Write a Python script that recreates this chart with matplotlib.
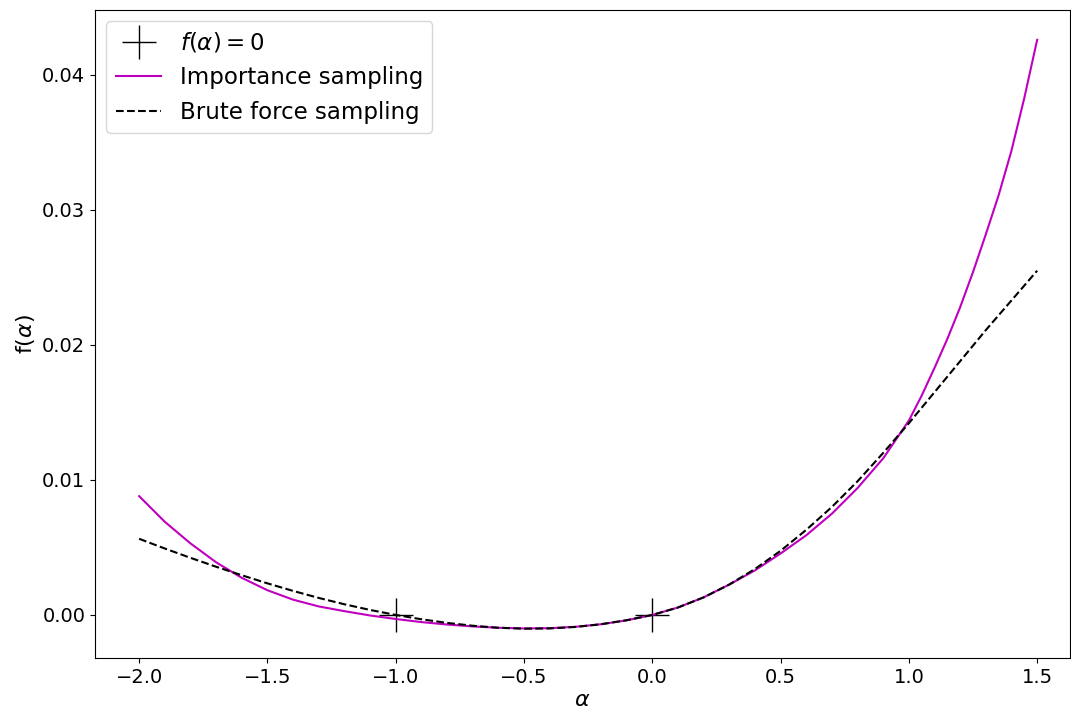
import numpy as np
import matplotlib
matplotlib.use("Agg")
import matplotlib.pyplot as plt

# values
alpha_is = [-2.0, -1.9, -1.8, -1.7, -1.6, -1.5, -1.4, -1.3, -1.2, -1.1,
            -1.0, -0.9, -0.8, -0.7, -0.6, -0.5, -0.4, -0.3, -0.2, -0.1,
            0.0, 0.1, 0.2, 0.3, 0.4, 0.5, 0.6, 0.7, 0.8, 0.9,
            1.0, 1.05, 1.1, 1.15, 1.2, 1.25, 1.3, 1.35, 1.4, 1.45, 1.5]
importance = [0.0088, 0.0069, 0.0053, 0.0039, 0.00275, 0.00183, 0.00113, 0.00063, 0.00028, -0.00004,
              -0.0003, -0.00053, -0.00071, -0.00085, -0.00095, -0.00100, -0.00098, -0.00088, -0.00069, -0.0004,
              0.0, 0.00055, 0.0013, 0.00225, 0.0033, 0.00455, 0.0059, 0.0075, 0.0094, 0.0116,
              0.0144, 0.01625, 0.0183, 0.02045, 0.0228, 0.0254, 0.0282, 0.0311, 0.0344, 0.0383, 0.0426]

alpha_bf = [-2.0, -1.9, -1.8, -1.7, -1.6, -1.5, -1.4, -1.3, -1.2, -1.1,
            -1.0, -0.9, -0.8, -0.7, -0.6, -0.5, -0.4, -0.3, -0.2, -0.1,
            0.0, 0.1, 0.2, 0.3, 0.4, 0.5, 0.6, 0.7, 0.8, 0.9,
            1.0, 1.1, 1.2, 1.3, 1.4, 1.5]
brute = [0.00564, 0.00492, 0.00423, 0.00357, 0.00294, 0.00234, 0.00178, 0.00126, 0.00079, 0.00037,
         0.0, -0.00032, -0.00059, -0.0008, -0.00095, -0.00102, -0.0010, -0.00089, -0.00069, -0.00039,
         0.0, 0.00055, 0.0013, 0.00225, 0.0034, 0.00475, 0.0063, 0.0080, 0.0099, 0.0120,
         0.0142, 0.0165, 0.0188, 0.0211, 0.0233, 0.0255]

roots_x = [-1.0, 0.0]
roots_y = [0.0, 0.0]

fig = plt.figure(figsize=(10.71, 7.09), dpi=100)
ax = fig.add_axes([95 / 1071, 51 / 709, 975 / 1071, 648 / 709])

ax.plot(roots_x, roots_y, 'k+', markersize=24, markeredgewidth=1.0, label=r'$f(\alpha) = 0$')
ax.plot(alpha_is, importance, 'm', lw=1.5, label='Importance sampling')
ax.plot(alpha_bf, brute, 'k--', lw=1.5, label='Brute force sampling')

ax.set_xlim(-2.172, 1.628)
ax.set_ylim(-0.00319, 0.04481)
ax.set_xticks([-2.0, -1.5, -1.0, -0.5, 0.0, 0.5, 1.0, 1.5])
ax.set_yticks([0.0, 0.01, 0.02, 0.03, 0.04])
ax.tick_params(labelsize=14)
ax.set_xlabel(r'$\alpha$', fontsize=16, labelpad=2)
ax.set_ylabel(r'f($\alpha$)', fontsize=16)
ax.legend(loc='upper left', fontsize=16.5)

fig.savefig('out.png', dpi=100)
